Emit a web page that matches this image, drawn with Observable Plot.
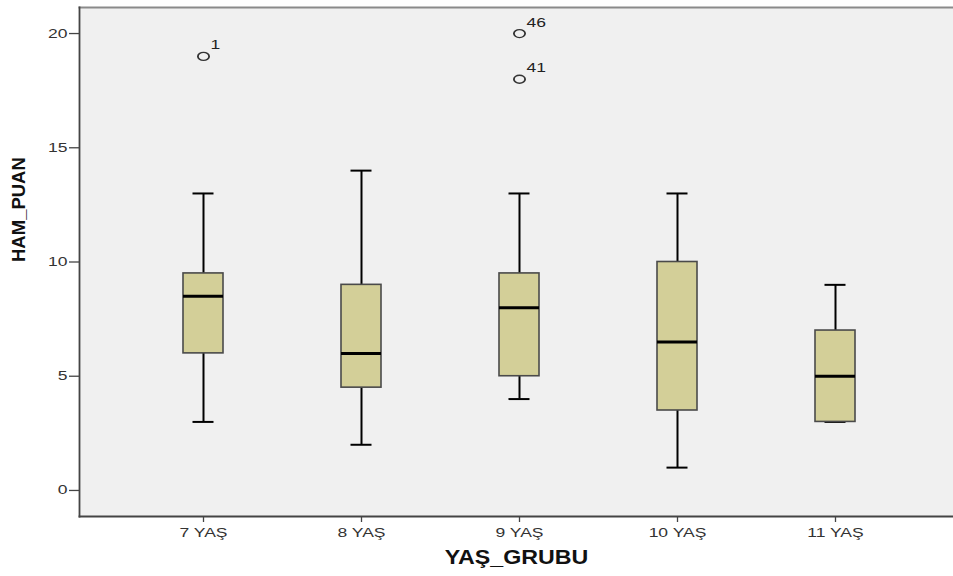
<!DOCTYPE html>
<html>
<head>
<meta charset="utf-8">
<script src="https://cdn.jsdelivr.net/npm/d3@7"></script>
<script src="https://cdn.jsdelivr.net/npm/@observablehq/plot@0.6"></script>
<style>
  html, body { margin: 0; padding: 0; background: #ffffff; overflow: hidden; }
  #chart svg { font-family: "Liberation Sans", Arial, sans-serif; }
</style>
</head>
<body>
<div id="chart"></div>
<script>
// ---- data ----
const categories   = ["7 YAŞ", "8 YAŞ", "9 YAŞ", "10 YAŞ", "11 YAŞ"];
const whiskerLow   = [3, 2, 4, 1, 3];
const q1           = [6, 4.5, 5, 3.5, 3];
const median       = [8.5, 6, 8, 6.5, 5];
const q3           = [9.5, 9, 9.5, 10, 7];
const whiskerHigh  = [13, 14, 13, 13, 9];
const outlierGroup = ["7 YAŞ", "9 YAŞ", "9 YAŞ"];
const outlierValue = [19, 18, 20];
const outlierCase  = ["1", "41", "46"];
const yTicks       = [0, 5, 10, 15, 20];
const xTitle = "YAŞ_GRUBU";
const yTitle = "HAM_PUAN";

const boxes = categories.map((c, i) => ({
  group: c, low: whiskerLow[i], q1: q1[i], median: median[i], q3: q3[i], high: whiskerHigh[i]
}));
const outliers = outlierGroup.map((g, i) => ({group: g, value: outlierValue[i], label: outlierCase[i]}));

const W = 953, H = 576;
const chart = Plot.plot({
  width: W,
  height: H,
  marginLeft: 79,
  marginRight: 0,
  marginTop: 7,
  marginBottom: 60,
  style: {background: "#ffffff", fontFamily: "'Liberation Sans', Arial, sans-serif"},
  x: {type: "band", domain: categories, range: [79, 959], paddingInner: 0.748, paddingOuter: 0.65, align: 0.5},
  y: {domain: [-1.14, 21.14]},
  marks: [
    Plot.frame({fill: "#f0f0f0", stroke: null}),
    // whiskers
    Plot.ruleX(boxes, {x: "group", y1: "low", y2: "q1", stroke: "#000", strokeWidth: 2}),
    Plot.ruleX(boxes, {x: "group", y1: "q3", y2: "high", stroke: "#000", strokeWidth: 2}),
    Plot.tickY(boxes, {x: "group", y: "low", stroke: "#000", strokeWidth: 2, insetLeft: 9.5, insetRight: 9.5}),
    Plot.tickY(boxes, {x: "group", y: "high", stroke: "#000", strokeWidth: 2, insetLeft: 9.5, insetRight: 9.5}),
    // boxes
    Plot.barY(boxes, {x: "group", y1: "q1", y2: "q3", fill: "#d3cf98", stroke: "#4a4a4a", strokeWidth: 1.6}),
    Plot.tickY(boxes, {x: "group", y: "median", stroke: "#000", strokeWidth: 3}),
    // outliers
    Plot.dot(outliers, {x: "group", y: "value", r: 4, stroke: "#333", strokeWidth: 1.3, fill: "none"}),
    Plot.text(outliers, {x: "group", y: "value", text: "label", dx: 7, dy: -11, textAnchor: "start", fontSize: 12.5, fill: "#222"}),
    // borders
    Plot.frame({anchor: "top", stroke: "#8a8a8a", strokeWidth: 2}),
    Plot.frame({anchor: "left", stroke: "#444", strokeWidth: 1.8}),
    Plot.frame({anchor: "bottom", stroke: "#444", strokeWidth: 1.8}),
    // axes
    Plot.axisY({ticks: yTicks, tickSize: 10, tickPadding: 2, label: null, fontSize: 12.5, stroke: "#444", fill: "#333", strokeWidth: 1.3}),
    Plot.axisX({tickSize: 6, tickPadding: 6, label: null, fontSize: 12.5, stroke: "#444", fill: "#333", strokeWidth: 1.3}),
    Plot.text([xTitle], {frameAnchor: "bottom", dy: 47, fontSize: 19.5, fontWeight: "bold", fill: "#111"}),
    Plot.text([yTitle], {frameAnchor: "left", rotate: -90, dx: -60, fontSize: 18.5, fontWeight: "bold", fill: "#111"})
  ]
});

document.getElementById("chart").appendChild(chart);

// The reference image is horizontally stretched; mimic that with textLength (no position change).
const stretchFor = new Map();
categories.forEach(c => stretchFor.set(c, 1.4));
yTicks.forEach(v => stretchFor.set(String(v), 1.4));
outlierCase.forEach(c => stretchFor.set(c, 1.4));
stretchFor.set(xTitle, 1.19);
chart.querySelectorAll("text").forEach(t => {
  const s = stretchFor.get(t.textContent.trim());
  if (!s || t.querySelector("tspan")) return;
  const w = t.getComputedTextLength();
  if (w > 0) {
    t.setAttribute("textLength", (w * s).toFixed(2));
    t.setAttribute("lengthAdjust", "spacingAndGlyphs");
  }
});
// stretch the outlier circles horizontally too
chart.querySelectorAll('[aria-label="dot"] circle, [aria-label="dot"] path').forEach(el => {
  if (el.tagName.toLowerCase() === "circle" && el.hasAttribute("cx")) {
    const cx = +el.getAttribute("cx"), cy = +el.getAttribute("cy");
    el.setAttribute("transform", `translate(${cx},${cy}) scale(1.4,1) translate(${-cx},${-cy})`);
  } else {
    const tr = el.getAttribute("transform") || "";
    el.setAttribute("transform", `${tr} scale(1.4,1)`);
  }
});
</script>
</body>
</html>
